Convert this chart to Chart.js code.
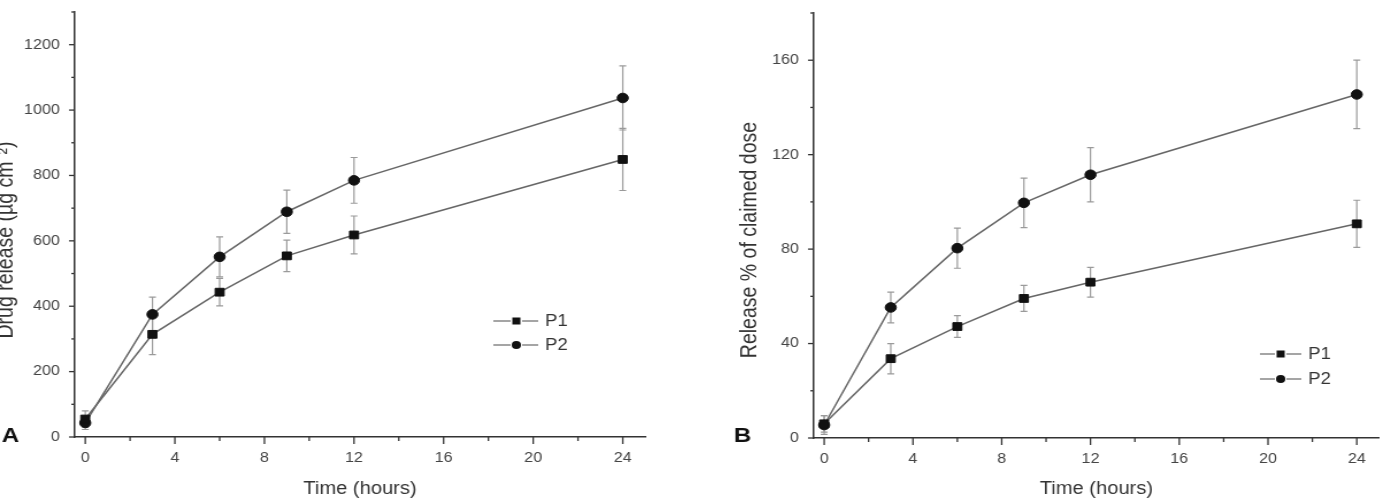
<!DOCTYPE html>
<html><head><meta charset="utf-8">
<script src="https://cdn.jsdelivr.net/npm/chart.js@4.4.1/dist/chart.umd.min.js"></script>
<style>
html,body{margin:0;padding:0;background:#fff;overflow:hidden;width:1386px;height:498px;}
canvas{position:absolute;top:0;transform-origin:0 0;transform:scaleX(1.15);}
#cA{left:0}
#cB{left:693px}
</style></head><body>
<canvas id="cA" width="603" height="498"></canvas>
<canvas id="cB" width="603" height="498"></canvas>
<script>
// ---- data ----
const hours = [0, 3, 6, 9, 12, 24];
const releaseA_P1 = [55, 314, 443, 554, 618, 849];
const errA_P1 = [25, 62, 42, 48, 58, 95];
const releaseA_P2 = [43, 375, 551, 689, 785, 1037];
const errA_P2 = [20, 53, 61, 66, 70, 98];
const releaseB_P1 = [6, 33.6, 47.2, 59.1, 66, 90.7];
const errB_P1 = [3.5, 6.4, 4.6, 5.5, 6.3, 10];
const releaseB_P2 = [5.5, 55.3, 80.4, 99.6, 111.5, 145.5];
const errB_P2 = [4, 6.5, 8.5, 10.5, 11.5, 14.5];
const seriesNames = ['P1', 'P2'];
const xTicks = [0, 4, 8, 12, 16, 20, 24];
const xMinorTicks = [2, 6, 10, 14, 18, 22];
const yTicksA = [0, 200, 400, 600, 800, 1000, 1200];
const yMinorTicksA = [100, 300, 500, 700, 900, 1100, 1300];
const yTicksB = [0, 40, 80, 120, 160];
const yMinorTicksB = [20, 60, 100, 140, 180];
const xTitle = 'Time (hours)';
const yTitleA = 'Drug release (µg cm⁻²)';
const yTitleB = 'Release % of claimed dose';

const FONT = "'Liberation Sans', Arial, Helvetica, sans-serif";
const AXIS = '#333';

const tickMarks = {
  id: 'tickMarks',
  afterDraw(chart, args, o) {
    const ctx = chart.ctx, xs = chart.scales.x, ys = chart.scales.y;
    const {left, bottom} = chart.chartArea;
    ctx.save(); ctx.strokeStyle = AXIS; ctx.lineWidth = 1.3;
    const ln = (a, b, c, d) => { ctx.beginPath(); ctx.moveTo(a, b); ctx.lineTo(c, d); ctx.stroke(); };
    o.xMajor.forEach(v => { const p = xs.getPixelForValue(v); ln(p, bottom, p, bottom + 7); });
    o.xMinor.forEach(v => { const p = xs.getPixelForValue(v); ln(p, bottom, p, bottom + 4); });
    o.yMajor.forEach(v => { const p = ys.getPixelForValue(v); ln(left, p, left - 5, p); });
    o.yMinor.forEach(v => { const p = ys.getPixelForValue(v); ln(left, p, left - 3, p); });
    ctx.restore();
  }
};

const errorBars = {
  id: 'errorBars',
  beforeDatasetsDraw(chart, args, o) {
    const ctx = chart.ctx, xs = chart.scales.x, ys = chart.scales.y;
    ctx.save(); ctx.strokeStyle = '#9a9a9a'; ctx.lineWidth = 1.2;
    chart.data.datasets.forEach((ds, i) => {
      const errs = o.errors[i];
      ds.data.forEach((pt, j) => {
        const x = xs.getPixelForValue(pt.x);
        const y1 = ys.getPixelForValue(pt.y + errs[j]);
        const y2 = ys.getPixelForValue(pt.y - errs[j]);
        ctx.beginPath();
        ctx.moveTo(x, y1); ctx.lineTo(x, y2);
        ctx.moveTo(x - 3, y1); ctx.lineTo(x + 3, y1);
        ctx.moveTo(x - 3, y2); ctx.lineTo(x + 3, y2);
        ctx.stroke();
      });
    });
    ctx.restore();
  }
};

const annotations = {
  id: 'annotations',
  afterDraw(chart, args, o) {
    const ctx = chart.ctx;
    ctx.save();
    chart.data.datasets.forEach((ds, i) => {
      const y = o.rows[i];
      ctx.strokeStyle = '#888'; ctx.lineWidth = 1.5;
      ctx.beginPath(); ctx.moveTo(o.x0, y); ctx.lineTo(o.xm - 5, y);
      ctx.moveTo(o.xm + 5, y); ctx.lineTo(o.x1, y); ctx.stroke();
      ctx.fillStyle = '#111';
      if (ds.pointStyle === 'rect') { ctx.fillRect(o.xm - 3.5, y - 3.5, 7, 7); }
      else { ctx.beginPath(); ctx.arc(o.xm, y, 4, 0, Math.PI * 2); ctx.fill(); }
      ctx.fillStyle = '#333'; ctx.font = '16px ' + FONT;
      ctx.textBaseline = 'middle'; ctx.textAlign = 'left';
      ctx.fillText(ds.label, o.xt, y + 1);
    });
    // panel letter
    ctx.fillStyle = '#111'; ctx.font = 'bold 21px ' + FONT;
    ctx.textAlign = 'center'; ctx.textBaseline = 'middle';
    ctx.fillText(o.panel, o.px, o.py);
    // y-axis title
    ctx.save();
    ctx.translate(o.tx, o.ty); ctx.rotate(-Math.PI / 2);
    ctx.fillStyle = '#333'; ctx.font = '19.5px ' + FONT;
    ctx.textAlign = 'center'; ctx.textBaseline = 'middle';
    ctx.fillText(o.title, 0, 0);
    ctx.restore();
    ctx.restore();
  }
};

function makeChart(id, p) {
  const ds = (label, vals, style, r) => ({
    label, data: hours.map((h, i) => ({x: h, y: vals[i]})),
    borderColor: '#666', borderWidth: 1.5, tension: 0,
    pointStyle: style, pointRadius: r, pointBackgroundColor: '#111', pointBorderColor: '#111',
    pointBorderWidth: 1, clip: false
  });
  return new Chart(document.getElementById(id), {
    type: 'line',
    data: { datasets: [ds(seriesNames[0], p.p1, 'rect', 5.5), ds(seriesNames[1], p.p2, 'circle', 4.8)] },
    options: {
      responsive: false, animation: false, devicePixelRatio: 1,
      layout: { padding: { left: 0, top: p.padTop, right: p.padRight, bottom: 0 } },
      plugins: {
        legend: { display: false }, tooltip: { enabled: false },
        tickMarks: { xMajor: xTicks, xMinor: xMinorTicks, yMajor: p.yMajor, yMinor: p.yMinor },
        errorBars: { errors: [p.e1, p.e2] },
        annotations: p.ann
      },
      scales: {
        x: {
          type: 'linear', min: -0.47, max: 25,
          afterBuildTicks: s => { s.ticks = xTicks.map(v => ({value: v})); },
          afterFit: s => { s.height = p.xAxisH; s.paddingLeft = 0; s.paddingRight = 0; },
          grid: { display: false, drawTicks: false },
          border: { display: true, color: AXIS, width: 1.5 },
          ticks: { color: '#444', font: { family: FONT, size: 14 }, padding: 13, maxRotation: 0, autoSkip: false, callback: v => String(v) },
          title: { display: true, text: xTitle, color: '#333', font: { family: FONT, size: 17.5, lineHeight: 1.0 }, padding: { top: 0, bottom: 0 } }
        },
        y: {
          type: 'linear', min: 0, max: p.yMax,
          afterBuildTicks: s => { s.ticks = p.yMajor.map(v => ({value: v})); },
          afterFit: s => { s.width = p.yAxisW; s.paddingTop = 0; s.paddingBottom = 0; },
          grid: { display: false, drawTicks: false },
          border: { display: true, color: AXIS, width: 1.5 },
          ticks: { color: '#444', font: { family: FONT, size: 14 }, padding: 13, autoSkip: false, callback: v => String(v) },
          title: { display: false, text: p.yTitle }
        }
      }
    },
    plugins: [errorBars, tickMarks, annotations]
  });
}

makeChart('cA', {
  p1: releaseA_P1, p2: releaseA_P2, e1: errA_P1, e2: errA_P2,
  yMax: 1300, yMajor: yTicksA, yMinor: yMinorTicksA, yTitle: yTitleA,
  padTop: 12, padRight: 42, xAxisH: 61, yAxisW: 65,
  ann: { x0: 429, xm: 449, x1: 468, xt: 474, rows: [321, 345], panel: 'A', px: 9, py: 436,
         title: yTitleA, tx: 6, ty: 240 }
});
makeChart('cB', {
  p1: releaseB_P1, p2: releaseB_P2, e1: errB_P1, e2: errB_P2,
  yMax: 180, yMajor: yTicksB, yMinor: yMinorTicksB, yTitle: yTitleB,
  padTop: 13, padRight: 1, xAxisH: 60, yAxisW: 105,
  ann: { x0: 493, xm: 511, x1: 529, xt: 535, rows: [354, 379], panel: 'B', px: 43, py: 436,
         title: yTitleB, tx: 50, ty: 240 }
});
</script>
</body></html>
